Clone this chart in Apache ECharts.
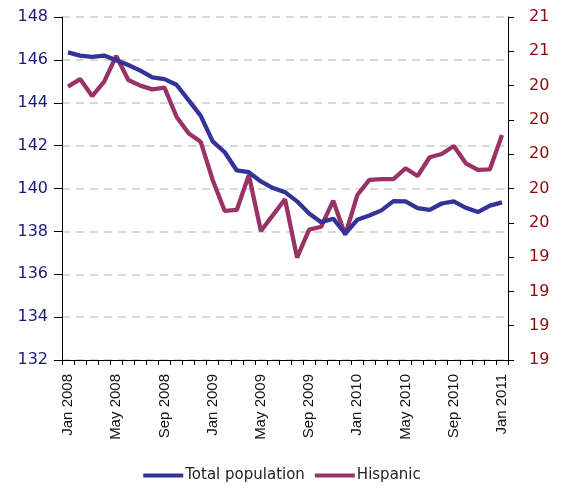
<!DOCTYPE html>
<html>
<head>
<meta charset="utf-8">
<script src="https://cdn.jsdelivr.net/npm/echarts@6/dist/echarts.min.js"></script>
<style>html,body{margin:0;padding:0;background:#fff;}#c{width:564px;height:489px;}</style>
</head>
<body>
<div id="c"></div>
<script>
const months = ['Jan','Feb','Mar','Apr','May','Jun','Jul','Aug','Sep','Oct','Nov','Dec'];
const categories = [];
for (let y = 2008; y <= 2011; y++) for (let m = 0; m < 12; m++) { if (y === 2011 && m > 0) break; categories.push(months[m] + ' ' + y); }

const totalPopulation = [146.35,146.2,146.14,146.2,145.98,145.76,145.5,145.18,145.1,144.84,144.12,143.4,142.2,141.69,140.84,140.76,140.33,140.02,139.83,139.4,138.83,138.43,138.59,137.9,138.54,138.74,138.98,139.41,139.4,139.09,139.0,139.3,139.4,139.1,138.9,139.2,139.35];
const hispanic = [20.394,20.438,20.339,20.423,20.573,20.433,20.4,20.378,20.388,20.219,20.122,20.073,19.85,19.669,19.675,19.879,19.552,19.645,19.737,19.397,19.56,19.577,19.729,19.529,19.762,19.85,19.855,19.855,19.918,19.873,19.982,20.001,20.048,19.947,19.908,19.912,20.112];

const seriesNames = ['Total population','Hispanic'];

const chart = echarts.init(document.getElementById('c'));
chart.setOption({
  animation: false,
  backgroundColor: '#fff',
  grid: { left: 62, right: 56, top: 17, bottom: 129 },
  legend: {
    bottom: 1, left: 'center',
    icon: 'rect', itemWidth: 40, itemHeight: 4, itemGap: 10,
    textStyle: { fontFamily: 'DejaVu Sans', fontSize: 15, color: '#222', padding: [0,0,0,-3] },
    data: seriesNames
  },
  xAxis: {
    type: 'category', data: categories, boundaryGap: true,
    axisLine: { lineStyle: { color: '#000', width: 1 } },
    axisTick: { show: true, interval: 0, length: 5, lineStyle: { color: '#000' } },
    axisLabel: { interval: 3, rotate: 90, margin: 14, fontFamily: 'Liberation Sans', fontSize: 15, color: '#111' },
    splitLine: { show: false }
  },
  yAxis: [
    {
      type: 'value', min: 132, max: 148, interval: 2, position: 'left',
      axisLine: { show: true, lineStyle: { color: '#000', width: 1 } },
      axisTick: { show: true, length: 8, lineStyle: { color: '#000' } },
      axisLabel: { margin: 14, fontFamily: 'DejaVu Sans', fontSize: 16, fontWeight: 500, color: '#1A1A7A' },
      splitLine: { show: true, lineStyle: { color: '#cccccc', type: [8, 6], width: 1.5 } }
    },
    {
      type: 'value', min: 18.8, max: 20.8, interval: 0.2, position: 'right',
      axisLine: { show: true, lineStyle: { color: '#000', width: 1 } },
      axisTick: { show: true, length: 6, lineStyle: { color: '#000' } },
      axisLabel: { margin: 21, fontFamily: 'DejaVu Sans', fontSize: 16, fontWeight: 500, color: '#8B0A0A',
        formatter: v => String(Math.round(v)) },
      splitLine: { show: false }
    }
  ],
  series: [
    { name: seriesNames[0], type: 'line', yAxisIndex: 0, data: totalPopulation, showSymbol: false, symbol: 'none',
      lineStyle: { color: '#333399', width: 4.3 }, itemStyle: { color: '#333399' }, z: 3 },
    { name: seriesNames[1], type: 'line', yAxisIndex: 1, data: hispanic, showSymbol: false, symbol: 'none',
      lineStyle: { color: '#993366', width: 4.3 }, itemStyle: { color: '#993366' }, z: 2 }
  ]
});
</script>
</body>
</html>
